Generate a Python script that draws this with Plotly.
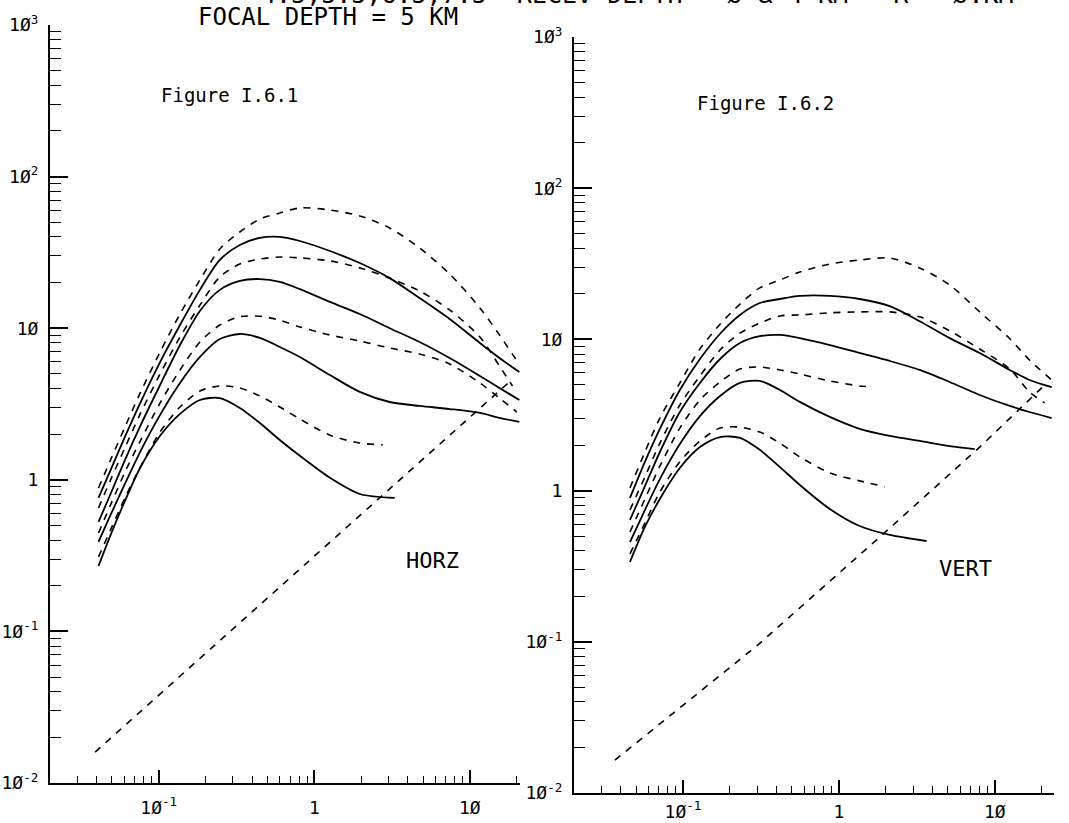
import plotly.graph_objects as go

# ---------------- Figure I.6.1  (HORZ) ----------------
h_x_full = [0.041, 0.049, 0.061, 0.076, 0.102, 0.137, 0.184, 0.247, 0.332, 0.447,
            0.600, 0.807, 1.26, 1.96, 3.05, 4.75, 7.41, 11.6, 15.5]
h_d4_x = h_x_full + [20.3]
h_d4_y = [0.883, 1.35, 2.26, 3.74, 6.97, 12.4, 20.8, 33.3, 43.1, 52.5, 57.5, 62.1, 60.2, 55.0, 45.8, 33.8, 22.8, 13.6, 9.02, 5.98]
h_s4_x = h_x_full + [20.8]
h_s4_y = [0.759, 1.16, 1.95, 3.21, 5.98, 10.5, 17.9, 28.2, 35.4, 39.4, 40.0, 37.6, 32.3, 26.9, 21.4, 15.8, 11.5, 7.99, 6.36, 5.14]
h_d3_x = h_x_full + [18.8]
h_d3_y = [0.652, 0.997, 1.65, 2.72, 4.99, 8.75, 14.2, 21.8, 26.5, 28.6, 29.5, 29.1, 27.8, 25.0, 21.4, 17.6, 13.2, 8.75, 5.63, 4.16]
h_s3_x = h_x_full + [20.8]
h_s3_y = [0.527, 0.806, 1.37, 2.26, 4.22, 7.75, 13.0, 17.9, 20.5, 21.1, 20.2, 18.1, 14.9, 12.4, 10.0, 8.11, 6.36, 4.84, 4.03, 3.36]
h_d2_x = h_x_full + [20.0]
h_d2_y = [0.446, 0.682, 1.14, 1.80, 3.21, 5.30, 8.11, 10.5, 11.9, 12.0, 11.3, 10.2, 9.02, 8.23, 7.40, 6.76, 5.81, 4.35, 3.46, 2.80]
h_s2_x = h_x_full + [20.8]
h_s2_y = [0.389, 0.586, 0.953, 1.53, 2.68, 4.35, 6.46, 8.49, 9.16, 8.62, 7.52, 6.46, 4.91, 3.80, 3.26, 3.07, 2.93, 2.76, 2.56, 2.41]
h_d1_x = [0.041, 0.049, 0.061, 0.076, 0.102, 0.137, 0.184, 0.247, 0.332, 0.447, 0.600, 0.807, 1.26, 1.96, 2.75]
h_d1_y = [0.310, 0.467, 0.770, 1.21, 2.07, 3.02, 3.85, 4.16, 4.03, 3.57, 3.02, 2.52, 1.97, 1.75, 1.70]
h_s1_x = [0.041, 0.049, 0.061, 0.076, 0.102, 0.137, 0.184, 0.247, 0.332, 0.447, 0.600, 0.807, 1.26, 1.96, 3.29]
h_s1_y = [0.270, 0.432, 0.736, 1.20, 1.95, 2.72, 3.36, 3.46, 2.98, 2.37, 1.83, 1.44, 1.03, 0.806, 0.759]
h_diag_x = [0.039, 18.5]
h_diag_y = [0.016, 4.55]

# ---------------- Figure I.6.2  (VERT) ----------------
v_x_full = [0.0457, 0.0570, 0.0711, 0.0955, 0.1285, 0.173, 0.232, 0.311, 0.419, 0.562,
            0.875, 1.36, 2.12, 3.30, 5.14, 8.01, 12.5, 16.7, 23.2]
v_d4_x = v_x_full
v_d4_y = [1.04, 1.80, 3.02, 5.15, 8.64, 12.6, 17.1, 21.9, 24.7, 27.9, 31.5, 33.5, 34.5, 29.7, 22.9, 15.2, 10.1, 7.31, 5.39]
v_s4_x = v_x_full
v_s4_y = [0.894, 1.55, 2.56, 4.63, 7.42, 10.9, 14.5, 17.4, 18.5, 19.4, 19.4, 18.5, 16.6, 13.2, 10.2, 8.13, 6.28, 5.39, 4.84]
v_d3_x = [0.0457, 0.0570, 0.0711, 0.0955, 0.1285, 0.173, 0.232, 0.311, 0.419, 0.562,
          0.875, 1.36, 2.12, 3.30, 5.14, 8.01, 12.5, 16.7, 20.9]
v_d3_y = [0.744, 1.23, 2.06, 3.68, 5.73, 8.51, 11.0, 12.8, 14.3, 14.5, 15.0, 15.2, 15.2, 14.1, 11.4, 8.64, 6.37, 4.49, 3.80]
v_s3_x = v_x_full
v_s3_y = [0.639, 1.07, 1.80, 3.31, 5.15, 7.42, 9.47, 10.5, 10.7, 10.2, 9.18, 8.13, 7.20, 6.28, 5.23, 4.29, 3.63, 3.31, 3.02]
v_d2_x = [0.0457, 0.0570, 0.0711, 0.0955, 0.1285, 0.173, 0.232, 0.311, 0.419, 0.562, 0.875, 1.36, 1.65]
v_d2_y = [0.532, 0.880, 1.45, 2.59, 3.97, 5.23, 6.37, 6.57, 6.28, 5.90, 5.31, 4.92, 4.84]
v_s2_x = [0.0457, 0.0570, 0.0711, 0.0955, 0.1285, 0.173, 0.232, 0.311, 0.419, 0.562,
          0.875, 1.36, 2.12, 3.30, 5.14, 7.44]
v_s2_y = [0.457, 0.744, 1.19, 2.03, 3.11, 4.22, 5.15, 5.31, 4.63, 3.86, 3.07, 2.56, 2.30, 2.13, 1.97, 1.88]
v_d1_x = [0.0457, 0.0570, 0.0711, 0.0955, 0.1285, 0.173, 0.232, 0.311, 0.419, 0.562, 0.875, 1.36, 1.97]
v_d1_y = [0.381, 0.610, 0.979, 1.55, 2.13, 2.59, 2.63, 2.44, 2.06, 1.67, 1.31, 1.16, 1.06]
v_s1_x = [0.0457, 0.0570, 0.0711, 0.0955, 0.1285, 0.173, 0.232, 0.311, 0.419, 0.562, 0.875, 1.36, 2.12, 3.66]
v_s1_y = [0.337, 0.575, 0.880, 1.41, 1.94, 2.26, 2.23, 1.86, 1.43, 1.09, 0.756, 0.583, 0.509, 0.464]
v_diag_x = [0.0366, 0.302, 1.83, 8.01, 20.9]
v_diag_y = [0.0165, 0.0952, 0.493, 1.94, 4.99]

# ---------------- tick labels & texts ----------------
y_tickvals = [0.01, 0.1, 1, 10, 100, 1000]
y_ticktext = ["1Ø<sup>-2</sup>", "1Ø<sup>-1</sup>", "1", "1Ø", "1Ø<sup>2</sup>", "1Ø<sup>3</sup>"]
x_tickvals = [0.1, 1, 10]
x_ticktext = ["1Ø<sup>-1</sup>", "1", "1Ø"]

title_line = "4.5,5.5,6.5,7.5\u00a0\u00a0RECEV DEPTH = Ø & 4 KM\u00a0\u00a0\u00a0R = Ø.KM"
focal_text = "FOCAL DEPTH = 5 KM"
fig_labels = ["Figure I.6.1", "Figure I.6.2"]
comp_labels = ["HORZ", "VERT"]

W, H = 1069, 823
FONT = "DejaVu Sans Mono"

fig = go.Figure()

solid = dict(color="black", width=1.8)
dashed = dict(color="black", width=1.6, dash="7px,7px")


def add_curve(x, y, line, xa, ya, shape="spline"):
    ln = dict(line)
    ln["shape"] = shape
    if shape == "spline":
        ln["smoothing"] = 0.8
    fig.add_trace(go.Scatter(x=x, y=y, mode="lines", xaxis=xa, yaxis=ya, line=ln,
                             showlegend=False, hoverinfo="skip"))


for (x, y, ln) in [(h_d4_x, h_d4_y, dashed), (h_s4_x, h_s4_y, solid), (h_d3_x, h_d3_y, dashed),
                   (h_s3_x, h_s3_y, solid), (h_d2_x, h_d2_y, dashed), (h_s2_x, h_s2_y, solid),
                   (h_d1_x, h_d1_y, dashed), (h_s1_x, h_s1_y, solid)]:
    add_curve(x, y, ln, "x", "y")
add_curve(h_diag_x, h_diag_y, dashed, "x", "y", shape="linear")

for (x, y, ln) in [(v_d4_x, v_d4_y, dashed), (v_s4_x, v_s4_y, solid), (v_d3_x, v_d3_y, dashed),
                   (v_s3_x, v_s3_y, solid), (v_d2_x, v_d2_y, dashed), (v_s2_x, v_s2_y, solid),
                   (v_d1_x, v_d1_y, dashed), (v_s1_x, v_s1_y, solid)]:
    add_curve(x, y, ln, "x2", "y2")
add_curve(v_diag_x, v_diag_y, dashed, "x2", "y2", shape="linear")

minor_vals = [m * 10 ** e for e in range(-3, 4) for m in range(2, 10)]

tickfont = dict(family=FONT, size=18, color="black")


def xaxis(dom, rng, anchor, standoff):
    return dict(type="log", domain=dom, range=rng, anchor=anchor, showgrid=False, zeroline=False,
                automargin=False,
                showline=True, linecolor="black", linewidth=2, ticks="inside", ticklen=13,
                tickwidth=1.5, tickcolor="black", tickvals=x_tickvals, ticktext=x_ticktext,
                tickfont=tickfont, ticklabelstandoff=standoff,
                minor=dict(tickmode="array", tickvals=minor_vals, ticks="inside", ticklen=7,
                           tickwidth=1.3, tickcolor="black", showgrid=False))


def yaxis(dom, anchor):
    return dict(type="log", domain=dom, range=[-2, 3], anchor=anchor, showgrid=False, zeroline=False,
                automargin=False,
                showline=True, linecolor="black", linewidth=2, ticks="inside", ticklen=18,
                tickwidth=1.5, tickcolor="black", tickvals=y_tickvals, ticktext=y_ticktext,
                tickfont=tickfont, ticklabelstandoff=6,
                minor=dict(tickmode="array", tickvals=minor_vals, ticks="inside", ticklen=11,
                           tickwidth=1.3, tickcolor="black", showgrid=False))


xa1 = xaxis([50 / W, 520 / W], [-1.69897, 1.32222], "y", 7)
xa2 = xaxis([574 / W, 1054 / W], [-1.69897, 1.38021], "y2", 1)
ya1 = yaxis([1 - 783 / H, 1 - 25 / H], "x")
ya2 = yaxis([1 - 793 / H, 1 - 37 / H], "x2")

ann = []


def add_text(txt, px, py, size, yanchor="middle"):
    ann.append(dict(text=txt, x=px / W, y=1 - py / H, xref="paper", yref="paper",
                    xanchor="center", yanchor=yanchor, showarrow=False,
                    font=dict(family=FONT, size=size, color="black")))


add_text(title_line, 637, 11, 25, yanchor="bottom")
add_text(focal_text, 328, 17, 24)
add_text(fig_labels[0], 229, 95, 19)
add_text(fig_labels[1], 765, 103, 19)
add_text(comp_labels[0], 432, 560, 22)
add_text(comp_labels[1], 965, 568, 22)

fig.update_layout(width=W, height=H, margin=dict(l=0, r=0, t=0, b=0, autoexpand=False),
                  paper_bgcolor="white", plot_bgcolor="white",
                  xaxis=xa1, yaxis=ya1, xaxis2=xa2, yaxis2=ya2,
                  annotations=ann, showlegend=False)

fig.write_html("out.html")
